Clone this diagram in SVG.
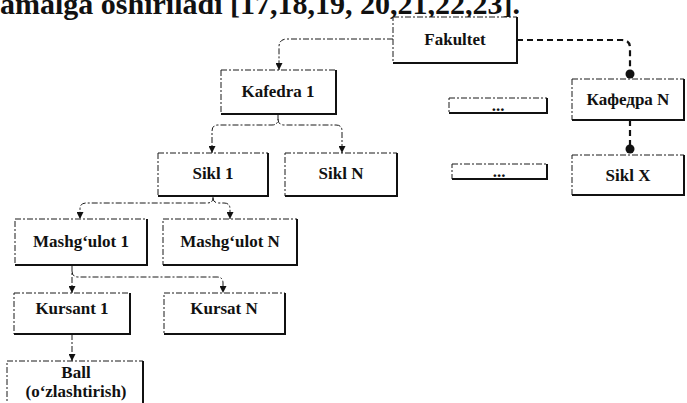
<svg xmlns="http://www.w3.org/2000/svg" width="687" height="403" viewBox="0 0 687 403">
  <style>
    .box { fill: #ffffff; stroke: #1a1a1a; stroke-width: 1; stroke-dasharray: 6 2 2 2; }
    .edge { fill: none; stroke: #111111; stroke-width: 2; }
    .lbl { font-family: "Liberation Serif", "Times New Roman", serif; font-weight: bold; font-size: 17px; fill: #111111; text-anchor: middle; }
    .link { fill: none; stroke: #1a1a1a; stroke-width: 1; stroke-dasharray: 6 2 2 2; }
    .bold-link { fill: none; stroke: #111111; stroke-width: 2.2; stroke-dasharray: 6 4; }
    .dot { fill: #111111; }
    .head { font-family: "Liberation Serif", "Times New Roman", serif; font-weight: bold; font-size: 30px; fill: #111111; }
  </style>
  <defs>
    <marker id="tri" markerWidth="8" markerHeight="7" refX="7" refY="3.5" orient="auto" markerUnits="userSpaceOnUse">
      <path d="M0 0 L7 3.5 L0 7 Z" fill="#111111"/>
    </marker>
  </defs>

  <rect width="687" height="403" fill="#ffffff"/>

  <!-- running text line above the chart, its upper part trimmed by the page edge -->
  <text class="head" x="0" y="14">amalga oshiriladi [17,18,19, 20,21,22,23].</text>

  <g id="connectors">
    <path class="link" d="M393 39 H287 Q279 39 279 47 V70" marker-end="url(#tri)"/>
    <path class="bold-link" d="M517 40 H622 Q630 40 630 48 V70"/>
    <circle class="dot" cx="630" cy="74" r="4.5"/>
    <path class="bold-link" d="M630 120 V146"/>
    <circle class="dot" cx="630" cy="149" r="4.5"/>

    <path class="link" d="M278 114 V119 Q278 125 272 125 H218 Q212 125 212 131 V153" marker-end="url(#tri)"/>
    <path class="link" d="M278 119 Q278 125 284 125 H336 Q342 125 342 131 V153" marker-end="url(#tri)"/>

    <path class="link" d="M213 196 V198 Q213 203 207 203 H86 Q80 203 80 209 V219" marker-end="url(#tri)"/>
    <path class="link" d="M213 198 Q213 203 219 203 H224 Q230 203 230 209 V219" marker-end="url(#tri)"/>

    <path class="link" d="M72 265 V293" marker-end="url(#tri)"/>
    <path class="link" d="M72 271 Q72 277 78 277 H217 Q223 277 223 283 V293" marker-end="url(#tri)"/>

    <path class="link" d="M72 334 V361" marker-end="url(#tri)"/>
  </g>

  <g id="fakultet">
    <rect class="box" x="393" y="17" width="124" height="46"/>
    <path class="edge" d="M517 17 V63 H393"/>
    <text class="lbl" x="455" y="45">Fakultet</text>
  </g>

  <g id="kafedra-1">
    <rect class="box" x="221" y="70" width="115" height="44"/>
    <path class="edge" d="M336 70 V114 H221"/>
    <text class="lbl" x="278" y="97">Kafedra 1</text>
  </g>

  <g id="ellipsis-1">
    <rect class="box" x="449" y="98" width="98" height="15"/>
    <path class="edge" d="M547 98 V113 H449"/>
    <text class="lbl" x="498" y="111">...</text>
  </g>

  <g id="kafedra-n">
    <rect class="box" x="572" y="79" width="112" height="41"/>
    <path class="edge" d="M684 79 V120 H572"/>
    <text class="lbl" x="628" y="105">Кафедра N</text>
  </g>

  <g id="sikl-1">
    <rect class="box" x="158" y="153" width="110" height="43"/>
    <path class="edge" d="M268 153 V196 H158"/>
    <text class="lbl" x="213" y="179">Sikl 1</text>
  </g>

  <g id="sikl-n">
    <rect class="box" x="285" y="153" width="112" height="43"/>
    <path class="edge" d="M397 153 V196 H285"/>
    <text class="lbl" x="341" y="179">Sikl N</text>
  </g>

  <g id="ellipsis-2">
    <rect class="box" x="452" y="164" width="95" height="15"/>
    <path class="edge" d="M547 164 V179 H452"/>
    <text class="lbl" x="499" y="177">...</text>
  </g>

  <g id="sikl-x">
    <rect class="box" x="572" y="155" width="112" height="40"/>
    <path class="edge" d="M684 155 V195 H572"/>
    <text class="lbl" x="628" y="181">Sikl X</text>
  </g>

  <g id="mashgulot-1">
    <rect class="box" x="15" y="219" width="132" height="46"/>
    <path class="edge" d="M147 219 V265 H15"/>
    <text class="lbl" x="81" y="247">Mashg‘ulot 1</text>
  </g>

  <g id="mashgulot-n">
    <rect class="box" x="163" y="219" width="134" height="46"/>
    <path class="edge" d="M297 219 V265 H163"/>
    <text class="lbl" x="230" y="247">Mashg‘ulot N</text>
  </g>

  <g id="kursant-1">
    <rect class="box" x="14" y="293" width="116" height="41"/>
    <path class="edge" d="M130 293 V334 H14"/>
    <text class="lbl" x="72" y="314">Kursant 1</text>
  </g>

  <g id="kursat-n">
    <rect class="box" x="164" y="293" width="121" height="41"/>
    <path class="edge" d="M285 293 V334 H164"/>
    <text class="lbl" x="224" y="314">Kursat N</text>
  </g>

  <g id="ball">
    <rect class="box" x="7" y="361" width="136" height="50"/>
    <path class="edge" d="M143 361 V411"/>
    <text class="lbl" x="76" y="378">Ball</text>
    <text class="lbl" x="76" y="397">(o‘zlashtirish)</text>
  </g>
</svg>
